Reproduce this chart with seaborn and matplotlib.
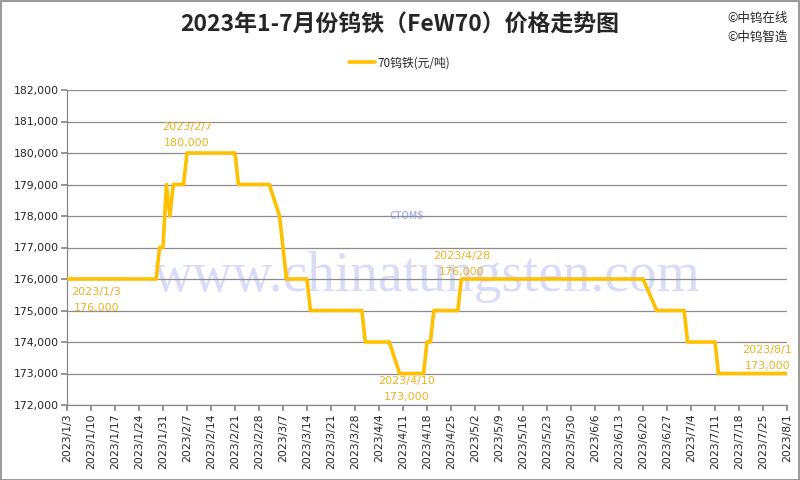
import matplotlib
matplotlib.use("Agg")
import matplotlib.pyplot as plt
import matplotlib.patches as mpatches
import matplotlib.ticker as mticker
import seaborn as sns
import pandas as pd

dates = ["2023-01-03", "2023-01-29", "2023-01-30", "2023-01-31", "2023-02-01", "2023-02-02",
         "2023-02-03", "2023-02-06", "2023-02-07", "2023-02-21", "2023-02-22", "2023-03-03",
         "2023-03-06", "2023-03-08", "2023-03-14", "2023-03-15", "2023-03-30", "2023-03-31",
         "2023-04-07", "2023-04-10", "2023-04-17", "2023-04-18", "2023-04-19", "2023-04-20",
         "2023-04-27", "2023-04-28", "2023-06-20", "2023-06-24", "2023-07-02", "2023-07-03",
         "2023-07-11", "2023-07-12", "2023-08-01"]
values = [176000, 176000, 177000, 177000, 179000, 178000,
          179000, 179000, 180000, 180000, 179000, 179000,
          178000, 176000, 176000, 175000, 175000, 174000,
          174000, 173000, 173000, 174000, 174000, 175000,
          175000, 176000, 176000, 175000, 175000, 174000,
          174000, 173000, 173000]
series_name = "70钨铁(元/吨)"
title = "2023年1-7月份钨铁（FeW70）价格走势图"
ann_dates = ["2023-01-03", "2023-02-07", "2023-04-10", "2023-04-28", "2023-08-01"]
ann_values = [176000, 180000, 173000, 176000, 173000]

sns.set_theme(style="white")
plt.rcParams['font.family'] = ['Noto Sans CJK SC', 'DejaVu Sans']

df = pd.DataFrame({"date": pd.to_datetime(dates), "price": values})

fig = plt.figure(figsize=(8, 4.8), dpi=100)
ax = fig.add_axes([67/800, 1-405/480, 720/800, 315/480])

line_color = "#FFC000"
text_color = "#EDB320"

# watermark
ax.text(0.5, 0.405, "www.chinatungsten.com", transform=ax.transAxes, ha="center", va="center",
        fontsize=40, family="Liberation Serif", color="#D0D4F4", alpha=0.8, zorder=0)
ax.text(0.472, 0.60, "CTOMS", transform=ax.transAxes, ha="center", va="center",
        fontsize=7, style="italic", weight="bold", color="#AEB8EC", zorder=0)

sns.lineplot(data=df, x="date", y="price", ax=ax, color=line_color, linewidth=2.6,
             label=series_name, zorder=3)

ax.set_xlim(pd.Timestamp("2023-01-03"), pd.Timestamp("2023-08-01"))
ax.set_ylim(172000, 182000)
ax.yaxis.set_major_locator(mticker.MultipleLocator(1000))
ax.yaxis.set_major_formatter(mticker.FuncFormatter(lambda v, p: f"{int(v):,}"))
ticks = pd.date_range("2023-01-03", "2023-08-01", freq="7D")
ax.set_xticks(ticks)
ax.set_xticklabels([f"{d.year}/{d.month}/{d.day}" for d in ticks], rotation=90,
                   family="DejaVu Sans")
ax.tick_params(axis="x", labelsize=7.8, length=4, color="#888888", direction="out",
               bottom=True, pad=2)
ax.tick_params(axis="y", labelsize=7.8, length=4, color="#888888", direction="out",
               left=True, pad=2)
for lab in ax.get_yticklabels():
    lab.set_family("DejaVu Sans")
ax.grid(axis="y", color="#8C8C8C", linewidth=0.9)
ax.set_axisbelow(True)
for s in ["top", "right"]:
    ax.spines[s].set_visible(False)
for s in ["left", "bottom"]:
    ax.spines[s].set_color("#888888")
    ax.spines[s].set_linewidth(0.9)
ax.set_xlabel("")
ax.set_ylabel("")

# annotations
offsets = [(21, -15), (0, 13), (5, -11), (0, 11), (-14, 11)]
for d, v, (dx, dy) in zip(ann_dates, ann_values, offsets):
    ts = pd.Timestamp(d)
    lbl = f"{ts.year}/{ts.month}/{ts.day}"
    ax.annotate(f"{lbl}\n{v:,}", xy=(ts, v), xytext=(dx, dy), textcoords="offset points",
                ha="center", va="center", fontsize=8, color=text_color,
                family="DejaVu Sans", linespacing=1.7, zorder=5)

leg = ax.legend(loc="center", bbox_to_anchor=(0.5, 1-63/480), bbox_transform=fig.transFigure,
                frameon=False, fontsize=8.5, handlelength=2.2, handletextpad=0.2)

fig.text(0.5, 1-25/480, title, ha="center", va="center", fontsize=16.5, weight="bold")
fig.text(727/800, 1-18/480, "©中钨在线", ha="left", va="center", fontsize=9)
fig.text(727/800, 1-37/480, "©中钨智造", ha="left", va="center", fontsize=9)

fig.patches.append(mpatches.Rectangle((0.001, 0.001), 0.998, 0.997, transform=fig.transFigure,
                                      fill=False, edgecolor="#888888", linewidth=1.2))

fig.savefig("out.png", dpi=100)
